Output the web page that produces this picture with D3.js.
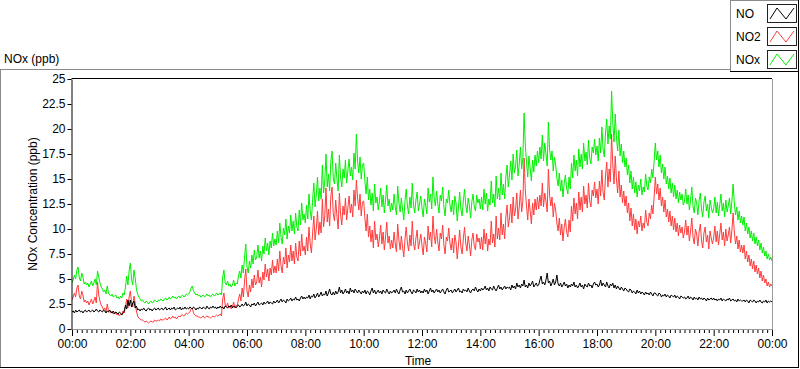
<!DOCTYPE html>
<html>
<head>
<meta charset="utf-8">
<script src="https://cdn.jsdelivr.net/npm/d3@7"></script>
<style>
  html, body { margin: 0; padding: 0; background: #fff; }
  svg { display: block; font-family: "Liberation Sans", Arial, sans-serif; }
</style>
</head>
<body>
<svg id="chart" width="800" height="369"></svg>
<script>
// ---- data ----
const seriesNames = ["NO", "NO2", "NOx"];
const seriesColors = ["#000000", "#ff3c3c", "#00f000"];
const yTicks = [0, 2.5, 5, 7.5, 10, 12.5, 15, 17.5, 20, 22.5, 25];
const xTickHours = [0, 2, 4, 6, 8, 10, 12, 14, 16, 18, 20, 22, 24];
const xTickLabels = ["00:00","02:00","04:00","06:00","08:00","10:00","12:00","14:00","16:00","18:00","20:00","22:00","00:00"];

// all series: one sample every 2.5 minutes, 00:00 .. 24:00 (one row per hour)
const stepMinutes = 2.5;

const noValues = [
  1.7,1.8,1.6,1.9,1.7,1.8,1.9,1.7,1.8,1.6,1.8,1.9,1.7,1.8,1.9,1.7,1.8,1.9,1.7,1.8,2.0,1.8,1.7,1.9,
  1.8,1.7,1.9,1.8,1.6,1.8,1.7,1.9,1.7,1.6,1.8,1.5,1.7,1.6,1.5,1.7,1.6,1.4,1.6,1.8,2.4,2.0,2.9,2.3,
  2.9,2.2,2.6,2.8,2.1,2.3,1.9,2.0,1.8,2.0,1.9,2.1,1.9,1.8,2.0,2.1,1.9,2.0,1.8,2.0,2.1,1.9,2.0,2.1,
  1.9,2.0,2.1,1.9,2.0,2.2,1.9,2.0,2.1,1.9,2.1,2.0,2.2,1.9,2.0,2.1,2.0,2.2,1.9,2.1,2.0,2.2,2.0,2.1,
  2.0,2.2,2.1,2.0,2.2,2.1,1.9,2.1,2.0,2.2,2.1,2.0,2.2,2.1,2.0,2.3,2.1,2.0,2.2,2.1,2.3,2.1,2.2,2.0,
  2.2,2.1,2.3,2.1,2.2,2.0,2.3,2.2,2.1,2.3,2.2,2.4,2.1,2.3,2.2,2.1,2.3,2.4,2.2,2.3,2.5,2.3,2.4,2.7,
  2.3,2.5,2.4,2.2,2.5,2.4,2.6,2.3,2.5,2.7,2.4,2.5,2.6,2.4,2.7,2.5,2.6,2.8,2.5,2.7,2.6,2.5,2.8,2.6,
  2.7,2.9,2.6,2.8,3.0,2.7,2.9,2.8,2.6,3.0,2.8,2.9,3.1,2.8,3.0,2.9,3.2,2.9,3.0,2.8,3.1,3.3,3.0,3.2,
  3.0,3.2,3.1,3.4,3.0,3.3,3.2,3.5,3.1,3.3,3.6,3.2,3.4,3.7,3.3,3.5,3.4,3.8,3.3,3.6,4.0,3.5,3.4,3.7,
  3.4,3.8,3.5,3.7,4.2,3.6,3.9,3.5,3.7,4.0,3.6,3.8,3.5,4.1,3.7,3.9,3.6,4.0,3.8,3.6,3.9,3.7,3.5,3.8,
  3.6,3.9,3.5,3.8,3.7,3.4,3.8,4.1,3.6,3.9,3.5,3.7,3.9,3.6,3.8,3.5,3.9,3.7,3.6,4.0,3.7,3.5,3.8,3.6,
  3.7,3.9,3.6,4.0,3.7,3.5,3.9,4.2,3.7,3.8,3.5,3.9,3.6,3.8,4.0,3.7,3.5,3.9,3.8,3.6,4.0,3.7,3.9,3.6,
  3.8,3.6,4.0,3.7,3.9,3.5,3.8,4.1,3.7,3.9,3.6,3.8,4.0,3.7,3.9,3.6,3.8,4.0,3.7,3.5,3.9,4.1,3.7,3.8,
  3.9,3.6,3.8,4.0,3.7,3.9,4.1,3.7,3.8,3.6,4.0,3.8,3.9,3.7,4.1,3.8,3.6,3.9,4.0,3.8,4.2,3.9,3.7,4.0,
  3.8,4.1,3.9,4.0,4.3,3.9,4.1,3.8,4.2,4.0,3.9,4.3,4.0,3.8,4.1,4.4,4.0,4.2,3.9,4.1,4.3,4.0,4.2,4.1,
  4.2,3.9,4.4,4.1,4.3,4.0,4.6,4.2,4.4,4.1,4.5,4.3,4.9,4.2,4.4,4.1,4.6,4.3,4.5,4.8,4.2,4.4,4.6,4.3,
  4.4,4.9,5.3,4.5,4.7,4.4,4.9,5.6,4.6,4.8,4.3,4.6,5.0,4.4,4.7,5.4,4.5,4.3,4.6,4.2,4.4,4.7,4.3,4.5,
  4.1,4.4,4.2,4.5,4.3,4.7,4.2,4.4,4.1,4.3,4.6,4.2,4.4,4.0,4.5,4.3,4.2,4.6,4.3,4.4,4.1,4.5,4.7,4.4,
  4.5,4.2,4.4,4.9,4.3,4.6,4.4,4.2,4.7,4.3,4.1,4.5,4.3,4.6,4.1,4.4,4.0,4.3,4.1,3.9,4.2,4.0,3.8,4.1,
  4.0,3.8,3.7,4.0,3.9,3.6,3.8,3.7,3.5,3.9,3.6,3.8,3.5,3.7,3.6,3.4,3.7,3.5,3.6,3.4,3.7,3.5,3.3,3.6,
  3.6,3.4,3.3,3.6,3.5,3.2,3.4,3.3,3.5,3.2,3.4,3.3,3.1,3.4,3.3,3.2,3.4,3.1,3.3,3.2,3.0,3.3,3.2,3.1,
  3.2,3.0,3.1,3.3,3.0,3.2,3.1,2.9,3.2,3.0,3.1,2.9,3.2,3.0,3.1,2.9,3.1,3.0,2.8,3.1,2.9,3.0,3.1,2.9,
  3.1,2.9,3.0,2.8,3.0,2.9,3.1,2.8,3.0,2.9,2.8,3.0,2.9,3.1,2.8,2.9,3.0,2.8,2.9,2.7,3.0,2.8,2.9,2.8,
  2.8,2.9,2.7,2.9,2.8,2.6,2.9,2.8,2.7,2.9,2.8,2.6,2.8,2.7,2.9,2.7,2.6,2.8,2.7,2.9,2.6,2.8,2.7,2.8,
  2.7
];

const no2Values = [
  2.9,3.2,3.6,3.2,4.1,4.4,3.3,3.0,3.8,3.4,2.7,2.9,2.6,2.8,2.4,2.7,3.0,2.5,2.8,3.2,2.6,4.7,3.4,2.8,
  2.4,2.2,1.9,2.1,1.7,2.5,1.8,1.7,1.6,1.8,1.5,1.6,1.7,1.4,1.5,1.3,1.5,1.4,1.8,1.6,2.2,3.0,2.1,3.2,
  3.8,2.7,2.2,3.3,2.6,1.8,1.3,1.1,1.0,0.9,0.9,0.8,0.7,0.8,0.7,0.6,0.7,0.8,0.7,0.7,0.9,0.8,0.8,0.9,
  0.8,1.0,0.9,0.9,1.0,1.1,0.9,1.0,1.2,1.0,1.1,1.3,1.1,1.2,1.0,1.2,1.3,1.2,1.4,1.4,1.3,1.4,1.6,1.5,
  1.6,1.7,2.0,2.1,1.6,1.4,1.3,1.3,1.2,1.2,1.1,1.2,1.3,1.1,1.2,1.3,1.2,1.2,1.1,1.2,1.3,1.2,1.3,1.4,
  1.3,1.4,1.5,1.3,3.0,3.6,2.4,2.2,2.6,2.1,2.3,2.0,2.2,2.7,2.1,2.4,2.3,3.0,3.5,2.8,4.1,3.2,4.8,6.0,
  3.8,3.2,4.4,3.7,5.0,4.1,5.4,4.4,4.7,5.9,4.6,5.2,4.2,5.7,4.9,6.5,5.2,6.0,4.8,6.1,5.4,6.9,5.6,6.3,
  5.6,7.0,5.8,7.8,6.3,5.6,7.2,6.5,8.1,6.1,7.4,6.7,8.4,6.8,7.8,6.5,8.6,7.2,6.8,8.8,7.3,9.5,7.8,8.3,
  7.4,9.2,7.8,10.2,8.5,7.6,9.6,11.3,8.9,10.0,11.8,9.4,10.7,9.6,13.0,10.2,11.3,14.1,10.7,12.0,10.3,13.3,14.2,11.5,
  10.8,12.9,11.3,10.0,13.6,11.5,10.4,12.3,11.4,13.1,10.9,12.1,13.3,11.6,12.5,11.2,13.9,12.3,14.9,13.1,11.9,13.5,11.3,12.7,
  12.8,11.1,9.8,11.5,9.2,10.3,8.7,9.9,8.1,10.8,8.9,9.5,8.2,9.1,10.4,8.5,9.7,7.9,9.2,10.7,8.6,9.3,8.0,8.9,
  8.1,9.7,8.5,7.7,10.5,8.9,7.9,9.3,8.2,7.2,9.0,10.2,8.6,7.8,9.4,8.3,10.8,8.6,7.9,9.1,9.9,8.0,8.7,9.5,
  8.3,7.4,9.2,8.6,7.7,10.3,8.9,9.7,8.2,11.3,9.3,8.5,10.0,8.7,7.8,9.6,9.0,10.4,8.4,7.5,9.2,8.8,10.1,8.6,
  7.9,9.1,7.6,9.4,8.7,7.0,8.4,9.9,8.2,7.5,9.0,10.2,8.6,7.8,9.3,8.4,7.3,8.9,9.6,8.3,7.9,9.5,8.7,9.1,
  8.0,9.2,7.9,10.0,8.5,9.6,7.8,9.0,8.4,10.8,8.6,9.5,8.2,11.3,9.0,10.1,8.9,11.6,9.4,10.5,9.0,11.2,12.4,10.2,
  11.1,12.5,10.6,13.2,11.3,11.9,13.6,11.0,12.2,13.9,11.7,12.8,17.1,13.9,12.3,10.9,13.0,11.8,10.5,12.6,11.4,13.0,11.9,13.2,
  12.0,13.4,12.3,14.6,12.2,13.6,12.8,11.7,16.0,13.4,12.3,13.2,11.2,12.6,11.9,10.6,9.8,11.1,9.4,10.5,8.8,10.2,11.0,9.7,
  9.2,10.9,9.7,12.3,10.8,13.1,11.5,12.6,11.0,13.7,11.9,13.2,11.7,14.3,12.5,13.4,12.1,14.6,12.8,12.2,13.9,13.3,14.7,13.1,
  14.0,12.5,14.8,13.3,15.9,13.7,12.9,15.3,16.7,14.2,16.0,14.7,19.5,16.4,14.5,17.3,15.0,13.6,15.8,13.2,14.4,12.6,13.8,12.3,
  13.3,11.6,12.6,10.8,12.1,10.3,11.5,9.9,11.0,9.5,10.8,10.2,11.3,9.8,10.6,10.1,11.9,10.7,10.3,11.6,11.0,12.4,11.5,13.2,
  15.2,13.5,14.5,12.9,14.1,12.3,13.2,11.7,12.9,11.2,12.0,10.7,11.8,10.3,11.3,9.9,11.1,9.7,10.6,9.3,10.4,9.6,10.2,9.1,
  9.7,10.9,9.4,10.3,8.8,9.8,11.1,9.2,8.5,10.0,9.5,8.3,9.7,10.5,8.9,8.1,9.6,10.2,8.7,9.4,8.0,9.8,9.1,8.5,
  9.1,10.3,8.7,9.8,8.4,9.5,10.6,8.9,9.7,8.3,10.0,8.8,9.4,10.2,8.6,9.9,11.6,9.7,8.5,9.3,8.0,8.9,7.7,8.4,
  7.6,8.4,7.0,7.8,6.7,7.4,6.3,7.0,6.0,6.8,5.7,6.4,5.5,6.1,5.1,5.8,4.8,5.4,4.6,5.0,4.3,4.7,4.2,4.5,
  4.3
];

const noxValues = [
  4.6,4.9,5.4,5.0,5.9,6.2,5.1,4.8,5.6,5.2,4.5,4.7,4.4,4.6,4.2,4.5,4.8,4.3,4.6,5.0,4.4,5.8,5.2,4.6,
  4.2,4.0,3.7,3.9,3.5,4.3,3.6,3.4,3.3,3.5,3.2,3.3,3.4,3.1,3.2,3.0,3.3,3.1,3.6,3.4,4.2,5.3,4.4,5.8,
  6.6,5.0,4.4,5.9,5.1,4.0,3.5,3.2,3.0,2.8,2.9,2.7,2.6,2.8,2.7,2.5,2.7,2.8,2.6,2.7,2.9,2.8,2.7,2.9,
  2.8,3.0,2.9,2.8,3.0,3.1,2.9,3.0,3.2,3.0,3.1,3.3,3.1,3.2,3.0,3.2,3.3,3.1,3.3,3.4,3.2,3.3,3.5,3.4,
  3.5,3.7,4.1,4.3,3.8,3.6,3.4,3.5,3.3,3.4,3.2,3.3,3.4,3.2,3.3,3.5,3.3,3.4,3.2,3.4,3.5,3.3,3.4,3.6,
  3.4,3.5,3.6,3.4,5.2,5.9,4.6,4.4,4.8,4.3,4.5,4.2,4.4,4.9,4.3,4.6,4.5,5.3,5.8,5.1,6.4,5.6,7.2,8.5,
  6.2,5.6,6.8,6.1,7.4,6.5,7.9,6.9,7.2,8.4,7.1,7.8,6.8,8.3,7.5,9.1,7.8,8.6,7.4,8.8,8.1,9.6,8.3,9.0,
  8.4,9.8,8.6,10.6,9.2,8.5,10.1,9.4,11.0,9.0,10.3,9.6,11.4,9.8,10.8,9.5,11.6,10.2,9.8,11.9,10.4,12.6,10.9,11.5,
  10.6,12.4,11.0,13.5,11.8,10.9,12.9,14.6,12.2,13.4,15.2,12.8,14.1,13.0,16.4,13.6,14.8,17.5,14.2,15.5,13.8,16.8,17.8,15.0,
  14.5,16.6,15.0,13.8,17.4,15.2,14.2,16.0,15.1,16.9,14.6,15.8,17.0,15.3,16.2,14.9,17.6,16.0,19.5,16.8,15.6,17.2,15.0,16.4,
  16.6,14.8,13.5,15.2,12.9,14.0,12.4,13.6,11.8,14.5,12.6,13.2,11.9,12.8,14.1,12.2,13.4,11.6,12.9,14.4,12.3,13.0,11.7,12.6,
  11.9,13.5,12.2,11.4,14.3,12.6,11.7,13.1,12.0,10.9,12.8,14.0,12.3,11.5,13.2,12.1,14.6,12.4,11.6,12.9,13.7,11.8,12.5,13.3,
  12.1,11.2,13.0,12.4,11.5,14.1,12.7,13.5,12.0,15.2,13.1,12.3,13.8,12.5,11.6,13.4,12.8,14.2,12.2,11.3,13.0,12.6,13.9,12.4,
  11.7,12.9,11.4,13.3,12.6,10.8,12.2,13.7,12.0,11.3,12.8,14.0,12.4,11.6,13.1,12.3,11.1,12.7,13.5,12.2,11.8,13.4,12.6,13.0,
  12.0,13.2,11.9,14.0,12.5,13.6,11.8,13.0,12.4,14.8,12.6,13.5,12.2,15.3,13.0,14.1,12.9,15.6,13.4,14.5,13.0,15.2,16.4,14.2,
  15.4,16.8,14.9,17.5,15.6,16.2,17.9,15.3,16.5,18.2,16.0,17.1,21.6,18.4,16.7,15.2,17.3,16.1,14.8,16.9,15.7,17.4,16.3,17.8,
  16.6,18.2,17.0,19.4,16.8,18.6,17.5,16.3,20.7,18.0,16.9,17.8,15.8,17.2,16.4,15.1,14.3,15.6,13.8,14.9,13.2,14.6,15.4,14.1,
  13.5,15.2,14.0,16.6,15.1,17.4,15.8,16.9,15.3,18.0,16.2,17.5,16.0,18.6,16.8,17.7,16.4,18.9,17.1,16.5,18.2,17.6,19.0,17.4,
  18.3,16.8,19.1,17.6,20.2,18.0,17.2,19.6,21.0,18.5,20.3,19.0,23.8,20.6,18.7,21.5,19.2,17.8,19.9,17.3,18.5,16.6,17.8,16.2,
  17.1,15.4,16.4,14.6,15.8,14.0,15.2,13.6,14.7,13.2,14.4,13.8,15.0,13.4,14.2,13.7,15.5,14.3,13.9,15.2,14.6,16.0,15.1,16.8,
  18.6,16.9,17.8,16.2,17.4,15.6,16.5,15.0,16.2,14.5,15.3,14.0,15.1,13.6,14.6,13.2,14.4,13.0,13.9,12.6,13.7,12.9,13.5,12.4,
  12.8,14.0,12.5,13.4,11.9,12.9,14.2,12.3,11.6,13.1,12.6,11.4,12.8,13.6,12.0,11.2,12.7,13.3,11.8,12.5,11.1,12.9,12.2,11.6,
  12.0,13.2,11.6,12.7,11.3,12.4,13.5,11.8,12.6,11.2,12.9,11.7,12.3,13.1,11.5,12.8,14.5,12.6,11.4,12.2,10.9,11.8,10.6,11.3,
  10.4,11.2,9.8,10.6,9.5,10.2,9.1,9.8,8.8,9.6,8.5,9.2,8.3,8.9,7.9,8.6,7.6,8.2,7.3,7.8,7.0,7.5,6.9,7.2,
  6.8
];

// ---- layout ----
const svg = d3.select("#chart");
const plot = { left: 72, top: 79, right: 772, bottom: 329 };

const x = d3.scaleLinear().domain([0, 24 * 60]).range([plot.left, plot.right]);
const y = d3.scaleLinear().domain([0, 25]).range([plot.bottom, plot.top]);

// outer frame
svg.append("rect").attr("x", 0).attr("y", 0).attr("width", 800).attr("height", 369).attr("fill", "#fff");
svg.append("line").attr("x1", 0).attr("x2", 730).attr("y1", 69.5).attr("y2", 69.5).attr("stroke", "#8a8a8a");
svg.append("line").attr("x1", 0.5).attr("x2", 0.5).attr("y1", 69).attr("y2", 368).attr("stroke", "#8a8a8a");
svg.append("line").attr("x1", 798.5).attr("x2", 798.5).attr("y1", 72).attr("y2", 368).attr("stroke", "#000");
svg.append("line").attr("x1", 0).attr("x2", 799).attr("y1", 367.5).attr("y2", 367.5).attr("stroke", "#000");

// chart title
svg.append("text").attr("x", 4).attr("y", 63).attr("font-size", 12).attr("fill", "#000").text("NOx (ppb)");

// legend
const lg = svg.append("g");
lg.append("line").attr("x1", 730.5).attr("x2", 730.5).attr("y1", 0).attr("y2", 72).attr("stroke", "#8a8a8a");
lg.append("line").attr("x1", 730).attr("x2", 799).attr("y1", 0.5).attr("y2", 0.5).attr("stroke", "#8a8a8a");
lg.append("line").attr("x1", 798.5).attr("x2", 798.5).attr("y1", 0).attr("y2", 72).attr("stroke", "#000");
lg.append("line").attr("x1", 730).attr("x2", 799).attr("y1", 71.5).attr("y2", 71.5).attr("stroke", "#000");
seriesNames.forEach((name, i) => {
  const top = 4 + i * 23;
  lg.append("text").attr("x", 736).attr("y", top + 14).attr("font-size", 12).attr("fill", "#000").text(name);
  lg.append("rect").attr("x", 767.5).attr("y", top + 0.5).attr("width", 29).attr("height", 18)
    .attr("fill", "#fff").attr("stroke", "#222");
  const zig = [[770, top + 15], [777, top + 4], [786, top + 15], [794, top + 4]];
  lg.append("path").attr("d", d3.line()(zig)).attr("fill", "none").attr("stroke", seriesColors[i]).attr("stroke-width", 1);
});

// plot background + clip
svg.append("rect").attr("x", plot.left).attr("y", plot.top).attr("width", plot.right - plot.left)
  .attr("height", plot.bottom - plot.top).attr("fill", "#fff");
svg.append("clipPath").attr("id", "clip").append("rect")
  .attr("x", plot.left).attr("y", plot.top).attr("width", plot.right - plot.left).attr("height", plot.bottom - plot.top);

// series (drawn NOx, NO2, NO so that NO sits on top)
const allValues = [noValues, no2Values, noxValues];
const lineGen = d3.line().x((d, i) => x(i * stepMinutes)).y(d => y(d));
const lines = svg.append("g").attr("clip-path", "url(#clip)");
[2, 1, 0].forEach(k => {
  lines.append("path").attr("d", lineGen(allValues[k])).attr("fill", "none")
    .attr("stroke", seriesColors[k]).attr("stroke-width", 1);
});

// plot frame: right/bottom gray, top black
svg.append("line").attr("x1", plot.right + 0.5).attr("x2", plot.right + 0.5).attr("y1", plot.top).attr("y2", plot.bottom + 1).attr("stroke", "#9a9a9a");
svg.append("line").attr("x1", plot.left).attr("x2", plot.right + 1).attr("y1", plot.bottom + 0.5).attr("y2", plot.bottom + 0.5).attr("stroke", "#9a9a9a");
svg.append("line").attr("x1", plot.left - 0.5).attr("x2", plot.right).attr("y1", plot.top - 0.5).attr("y2", plot.top - 0.5).attr("stroke", "#000");

// y axis
const yAxis = d3.axisLeft(y).tickValues(yTicks).tickSize(4).tickSizeOuter(0).tickPadding(2)
  .tickFormat(d => String(d));
const yg = svg.append("g").attr("transform", `translate(${plot.left - 0.5},0)`).call(yAxis);
yg.select(".domain").attr("stroke", "#000");
yg.selectAll(".tick line").attr("stroke", "#000");
yg.selectAll("text").attr("font-size", 12).attr("font-family", "Liberation Sans, Arial, sans-serif").attr("fill", "#000");

// x axis: major ticks every 2 h, minor ticks every 10 min
const minorTicks = d3.range(0, 24 * 60 + 1, 10).filter(m => m % 120 !== 0);
const xMinor = d3.axisBottom(x).tickValues(minorTicks).tickSize(3).tickFormat("").tickSizeOuter(0);
const xm = svg.append("g").attr("transform", `translate(0,${plot.bottom + 1})`).call(xMinor);
xm.select(".domain").remove();
xm.selectAll(".tick line").attr("stroke", "#000");

const xAxis = d3.axisBottom(x).tickValues(xTickHours.map(h => h * 60)).tickSize(6).tickSizeOuter(0)
  .tickPadding(3).tickFormat((d, i) => xTickLabels[i]);
const xg = svg.append("g").attr("transform", `translate(0,${plot.bottom + 1})`).call(xAxis);
xg.select(".domain").remove();
xg.selectAll(".tick line").attr("stroke", "#000");
xg.selectAll("text").attr("font-size", 12).attr("font-family", "Liberation Sans, Arial, sans-serif").attr("fill", "#000");

// axis titles
svg.append("text").attr("x", 418).attr("y", 365).attr("text-anchor", "middle").attr("font-size", 12).attr("fill", "#000").text("Time");
svg.append("text").attr("transform", "translate(37,204) rotate(-90)").attr("text-anchor", "middle")
  .attr("font-size", 12).attr("fill", "#000").text("NOx Concentration (ppb)");
</script>
</body>
</html>
